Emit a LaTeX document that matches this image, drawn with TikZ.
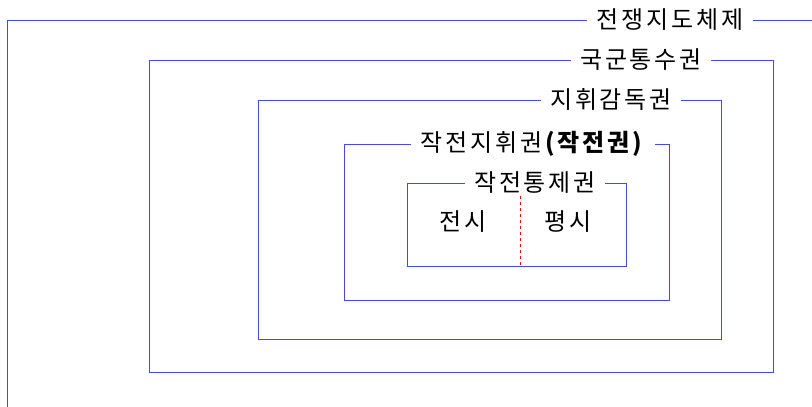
\documentclass[tikz,border=0pt]{standalone}
\usepackage{fontspec}
\usepackage{xcolor}
\usepackage{tikz}
\usetikzlibrary{positioning,calc}
\newfontfamily\kr[LetterSpace=12]{Noto Sans CJK KR}
\definecolor{framec}{RGB}{70,70,250}

\begin{document}
\begin{tikzpicture}[x=1pt, y=-1pt,
        frame/.style={draw=framec, line width=0.7pt},
        ttl/.style={font=\kr\fontsize{24}{28}\selectfont, inner sep=9pt, text=black},
        lbl/.style={font=\kr\fontsize{24}{28}\selectfont, inner sep=0pt, text=black}]
        \useasboundingbox (0,0) rectangle (812,407);
        % titles on the frames
        \node[ttl] (war) at (670,20) {전쟁지도체제};
        \node[ttl] (cmd) at (641,60) {국군통수권};
        \node[ttl] (sup) at (611,100) {지휘감독권};
        \node[ttl] (opc) at (533,144) {작전지휘권\textbf{(작전권)}};
        \node[ttl] (ctl) at (535,183) {작전통제권};
        % frames
        \draw[frame] (war.west) -- (7,20) -- (7,407);
        \draw[frame] (war.east) -- (812,20);
        \draw[frame] (cmd.west) -- (149,60) -- (149,372) -- (773,372) -- (773,60) -- (cmd.east);
        \draw[frame] (sup.west) -- (258,100) -- (258,339) -- (721,339) -- (721,100) -- (sup.east);
        \draw[frame] (opc.west) -- (344,144) -- (344,300) -- (669,300) -- (669,144) -- (opc.east);
        \draw[frame] (ctl.west) -- (407,183) -- (407,266) -- (626,266) -- (626,183) -- (ctl.east);
        % war time / peace time
        \coordinate (split1) at (520,196);
        \coordinate (split2) at (520,266);
        \draw[red, dashed, line width=0.7pt] (split1) -- (split2);
        \node[lbl] (wartime) at (463,222) {전시};
        \node[lbl] (peacetime) at (568,222) {평시};
    \end{tikzpicture}
\end{document}
